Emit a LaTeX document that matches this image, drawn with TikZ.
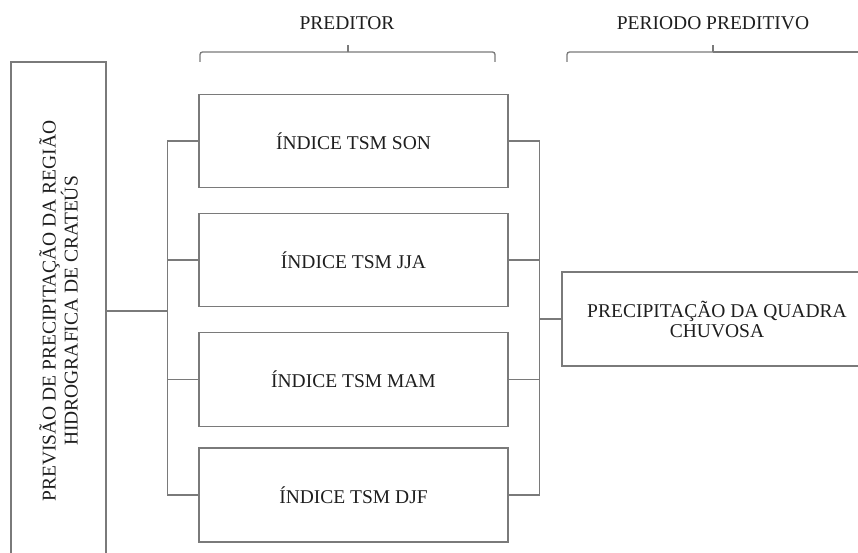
\documentclass[tikz,border=0pt]{standalone}
\usepackage{fontspec}
\setmainfont{Liberation Serif}
\definecolor{linegray}{HTML}{7A7A7A}
\definecolor{textgray}{HTML}{1E1E1E}
\begin{document}
\begin{tikzpicture}[x=1pt,y=-1pt,
  box/.style={draw=linegray, line width=1.3pt, inner sep=0pt},
  lbl/.style={text=textgray, font=\fontsize{19.5}{20}\selectfont, align=center, inner sep=0pt},
  conn/.style={draw=linegray, line width=1.3pt},
  brc/.style={draw=linegray, line width=1.3pt, rounded corners=2.5pt}]
\useasboundingbox (0,0) rectangle (858,553);
% left box
\node[box, minimum width=95, minimum height=498] (L) at (58.5,311) {};
\node[lbl, rotate=90] (Lt) at (L.center) {PREVISÃO DE PRECIPITAÇÃO DA REGIÃO\\HIDROGRAFICA DE CRATEÚS};
% predictor boxes
\node[box, minimum width=309, minimum height=93] (b1) at (353.5,141) {};
\node[box, minimum width=309, minimum height=93] (b2) at (353.5,260) {};
\node[box, minimum width=309, minimum height=94] (b3) at (353.5,379.5) {};
\node[box, minimum width=309, minimum height=94] (b4) at (353.5,495) {};
\node[lbl] (t1) at (b1.center) {ÍNDICE TSM SON};
\node[lbl] (t2) at (b2.center) {ÍNDICE TSM JJA};
\node[lbl] (t3) at (b3.center) {ÍNDICE TSM MAM};
\node[lbl] (t4) at (b4.center) {ÍNDICE TSM DJF};
% right box
\node[box, minimum width=310, minimum height=94] (R) at (717,319) {};
\node[lbl] (Rt) at (R.center) {PRECIPITAÇÃO DA QUADRA\\CHUVOSA};
% headers
\node[lbl] (h1) at (347,23) {PREDITOR};
\node[lbl] (h2) at (713,23) {PERIODO PREDITIVO};
% braces
\draw[brc] (200,62) |- (348,52);
\draw[brc] (495,62) |- (348,52);
\draw[conn] (348,52) -- (348,45);
\draw[brc] (567,62) |- (713,52);
\draw[conn] (713,52) -- (870,52);
\draw[conn] (713,52) -- (713,45);
% connectors left
\foreach \b in {b1,b2,b3,b4}{
  \draw[conn] (L.east) -- ++(61,0) |- (\b.west);
}
% connectors right
\foreach \b in {b1,b2,b3,b4}{
  \draw[conn] (\b.east) -- ++(31,0) |- (R.west);
}
\end{tikzpicture}
\end{document}
